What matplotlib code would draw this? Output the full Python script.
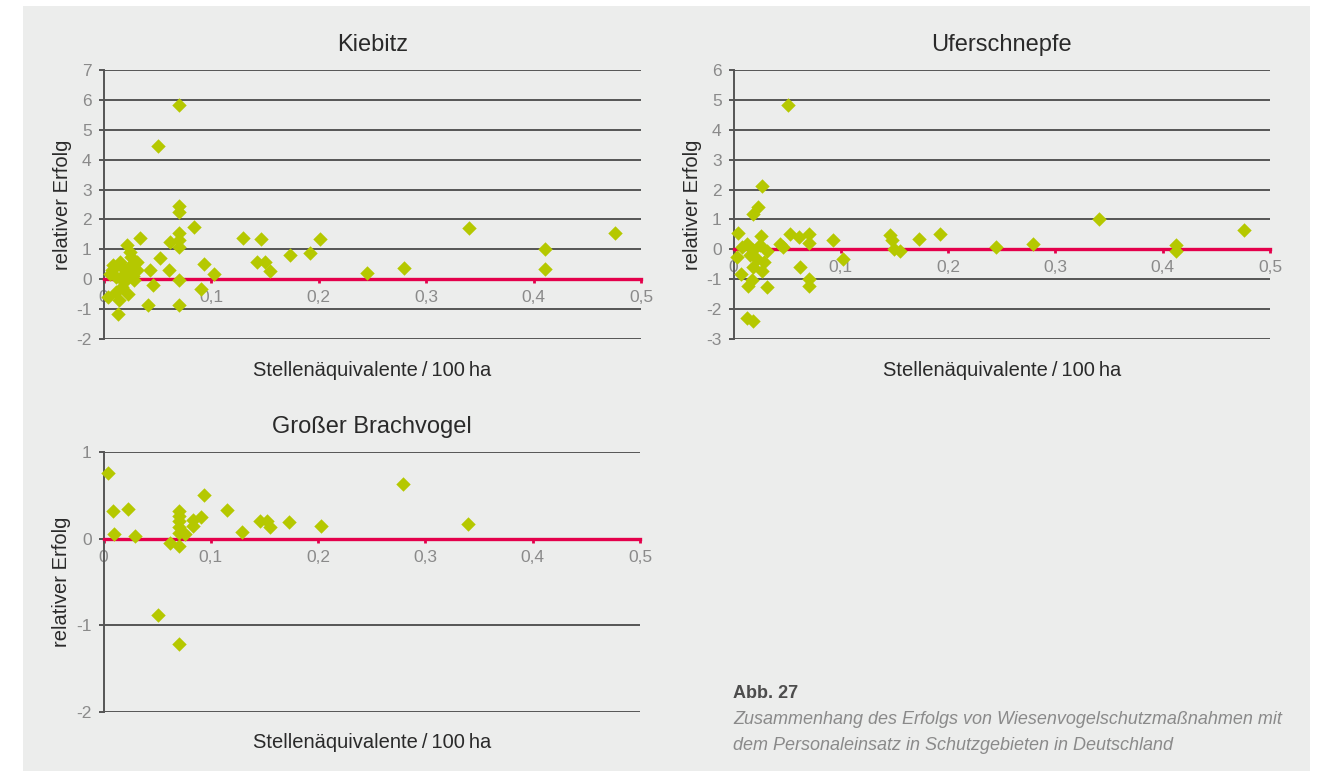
import numpy as np
import matplotlib.pyplot as plt
from matplotlib.ticker import FixedLocator, FuncFormatter

plt.rcParams['font.family'] = ['Liberation Sans', 'DejaVu Sans']
plt.rcParams['axes.unicode_minus'] = False

# Kiebitz: Stellenaequivalente/100 ha vs. relativer Erfolg
kiebitz_x = [0.0045, 0.0138, 0.014, 0.012, 0.023, 0.017, 0.028, 0.012, 0.0216, 0.006,
             0.018, 0.031, 0.009, 0.015, 0.031, 0.026, 0.0247, 0.0216, 0.034, 0.041,
             0.046, 0.043, 0.053, 0.051, 0.061, 0.062, 0.0705, 0.0705, 0.0705, 0.0705,
             0.0705, 0.0705, 0.0705, 0.0705, 0.084, 0.091, 0.0935, 0.103, 0.1295, 0.1465,
             0.143, 0.150, 0.155, 0.1735, 0.192, 0.2014, 0.245, 0.2795, 0.34, 0.411,
             0.411, 0.476, 0.020, 0.025, 0.008, 0.019, 0.027]
kiebitz_y = [-0.61, -1.18, -0.68, -0.42, -0.48, -0.26, -0.03, 0.08, 0.08, 0.19,
             0.36, 0.30, 0.47, 0.58, 0.58, 0.75, 0.91, 1.14, 1.38, -0.87,
             -0.20, 0.32, 0.71, 4.45, 0.30, 1.25, 5.84, 2.45, 2.25, 1.53,
             1.30, 1.08, -0.03, -0.87, 1.75, -0.33, 0.50, 0.19, 1.38, 1.34,
             0.58, 0.56, 0.27, 0.80, 0.89, 1.33, 0.21, 0.38, 1.73, 1.00,
             0.33, 1.56, 0.20, 0.45, 0.30, -0.10, 0.10]

# Uferschnepfe
ufer_x = [0.0508, 0.0268, 0.0226, 0.0185, 0.0045, 0.0253, 0.0527, 0.061, 0.0707, 0.0707,
          0.0433, 0.0464, 0.093, 0.1023, 0.062, 0.0707, 0.0707, 0.0315, 0.0067, 0.0138,
          0.017, 0.0123, 0.0185, 0.0263, 0.0284, 0.0076, 0.0123, 0.0185, 0.0247, 0.031,
          0.003, 0.0154, 0.0216, 0.0185, 0.1459, 0.148, 0.1496, 0.155, 0.173, 0.1925,
          0.2447, 0.2794, 0.3404, 0.412, 0.412, 0.476]
ufer_y = [4.84, 2.11, 1.41, 1.19, 0.56, 0.45, 0.52, 0.41, 0.52, 0.21,
          0.19, 0.08, 0.32, -0.33, -0.59, -0.98, -1.23, -1.26, -0.84, -1.23,
          -1.04, -2.30, -2.41, -0.73, -0.42, 0.08, 0.19, -0.03, 0.13, -0.06,
          -0.26, -0.20, -0.31, -0.59, 0.47, 0.30, 0.02, -0.07, 0.36, 0.52,
          0.08, 0.17, 1.03, 0.13, -0.06, 0.64]

# Grosser Brachvogel
brach_x = [0.0045, 0.0086, 0.023, 0.0098, 0.0293, 0.0935, 0.115, 0.129, 0.146, 0.152,
           0.155, 0.0705, 0.0705, 0.0705, 0.0705, 0.0705, 0.0758, 0.0835, 0.0913, 0.0835,
           0.0619, 0.0705, 0.051, 0.0705, 0.279, 0.1728, 0.2023, 0.3394]
brach_y = [0.76, 0.32, 0.34, 0.05, 0.035, 0.50, 0.33, 0.08, 0.20, 0.20,
           0.13, 0.32, 0.26, 0.20, 0.13, 0.07, 0.05, 0.22, 0.25, 0.15,
           -0.05, -0.08, -0.88, -1.22, 0.63, 0.19, 0.15, 0.17]

x_ticks = [0, 0.1, 0.2, 0.3, 0.4, 0.5]

bg = '#ecedec'
grid_col = '#555555'
red = '#e4004b'
green = '#b5c800'
tick_gray = '#8a8a8a'
text_col = '#2a2a2a'

W, H = 1319, 771
fig = plt.figure(figsize=(W / 100, H / 100), dpi=100)
fig.patch.set_facecolor('white')
fig.add_artist(plt.Rectangle((23 / W, 0), (1310 - 23) / W, 1 - 6 / H,
                             transform=fig.transFigure, facecolor=bg,
                             edgecolor='none', zorder=-10))


def panel(left, top, right, bottom, xs, ys, ylo, yhi, title):
    ax = fig.add_axes([left / W, 1 - bottom / H, (right - left) / W, (bottom - top) / H])
    ax.set_facecolor('none')
    ax.scatter(xs, ys, marker='D', s=54, color=green, linewidths=0, zorder=5, clip_on=False)
    ax.set_xlim(0, 0.5)
    ax.set_ylim(ylo, yhi)
    ax.yaxis.set_major_locator(FixedLocator(range(ylo, yhi + 1)))
    ax.xaxis.set_major_locator(FixedLocator(x_ticks))
    ax.xaxis.set_major_formatter(FuncFormatter(lambda v, p: '0' if v == 0 else ('%.1f' % v).replace('.', ',')))
    ax.grid(axis='y', color=grid_col, linewidth=1.4, zorder=0)
    ax.set_axisbelow(True)
    for s in ['top', 'right']:
        ax.spines[s].set_visible(False)
    ax.spines['left'].set_color(grid_col)
    ax.spines['left'].set_linewidth(1.4)
    ax.spines['bottom'].set_position(('data', 0))
    ax.spines['bottom'].set_color(red)
    ax.spines['bottom'].set_linewidth(2.4)
    ax.spines['bottom'].set_zorder(3)
    ax.tick_params(axis='y', direction='out', length=3.6, width=1.4, color=grid_col,
                   labelcolor=tick_gray, labelsize=12.5, pad=5)
    ax.tick_params(axis='x', direction='out', length=3, width=2, color=red,
                   labelcolor=tick_gray, labelsize=12.5, pad=5)
    h = bottom - top
    ax.text(0.5, 1 + 25 / h, title, transform=ax.transAxes, ha='center', va='center',
            fontsize=17, color=text_col)
    ax.text(0.5, -31 / h, 'Stellenäquivalente\u2009/\u2009100\u2009ha', transform=ax.transAxes,
            ha='center', va='center', fontsize=14.5, color=text_col)
    ax.text(-41.5 / (right - left), 0.5, 'relativer Erfolg', transform=ax.transAxes,
            ha='center', va='center', rotation=90, fontsize=14.5, color=text_col)
    return ax


panel(103.5, 70, 641, 339, kiebitz_x, kiebitz_y, -2, 7, 'Kiebitz')
panel(733.5, 70, 1270, 339, ufer_x, ufer_y, -3, 6, 'Uferschnepfe')
panel(103.5, 452, 640, 712, brach_x, brach_y, -2, 1, 'Großer Brachvogel')

fig.text(733 / W, 1 - 694 / H, 'Abb. 27', fontsize=13, fontweight='bold',
         color='#4d4d4d', va='center', ha='left')
fig.text(733 / W, 1 - 720 / H, 'Zusammenhang des Erfolgs von Wiesenvogelschutzmaßnahmen mit',
         fontsize=13, style='italic', color='#8a8a8a', va='center', ha='left')
fig.text(733 / W, 1 - 745 / H, 'dem Personaleinsatz in Schutzgebieten in Deutschland',
         fontsize=13, style='italic', color='#8a8a8a', va='center', ha='left')

fig.savefig('out.png', dpi=100, facecolor=fig.get_facecolor())
